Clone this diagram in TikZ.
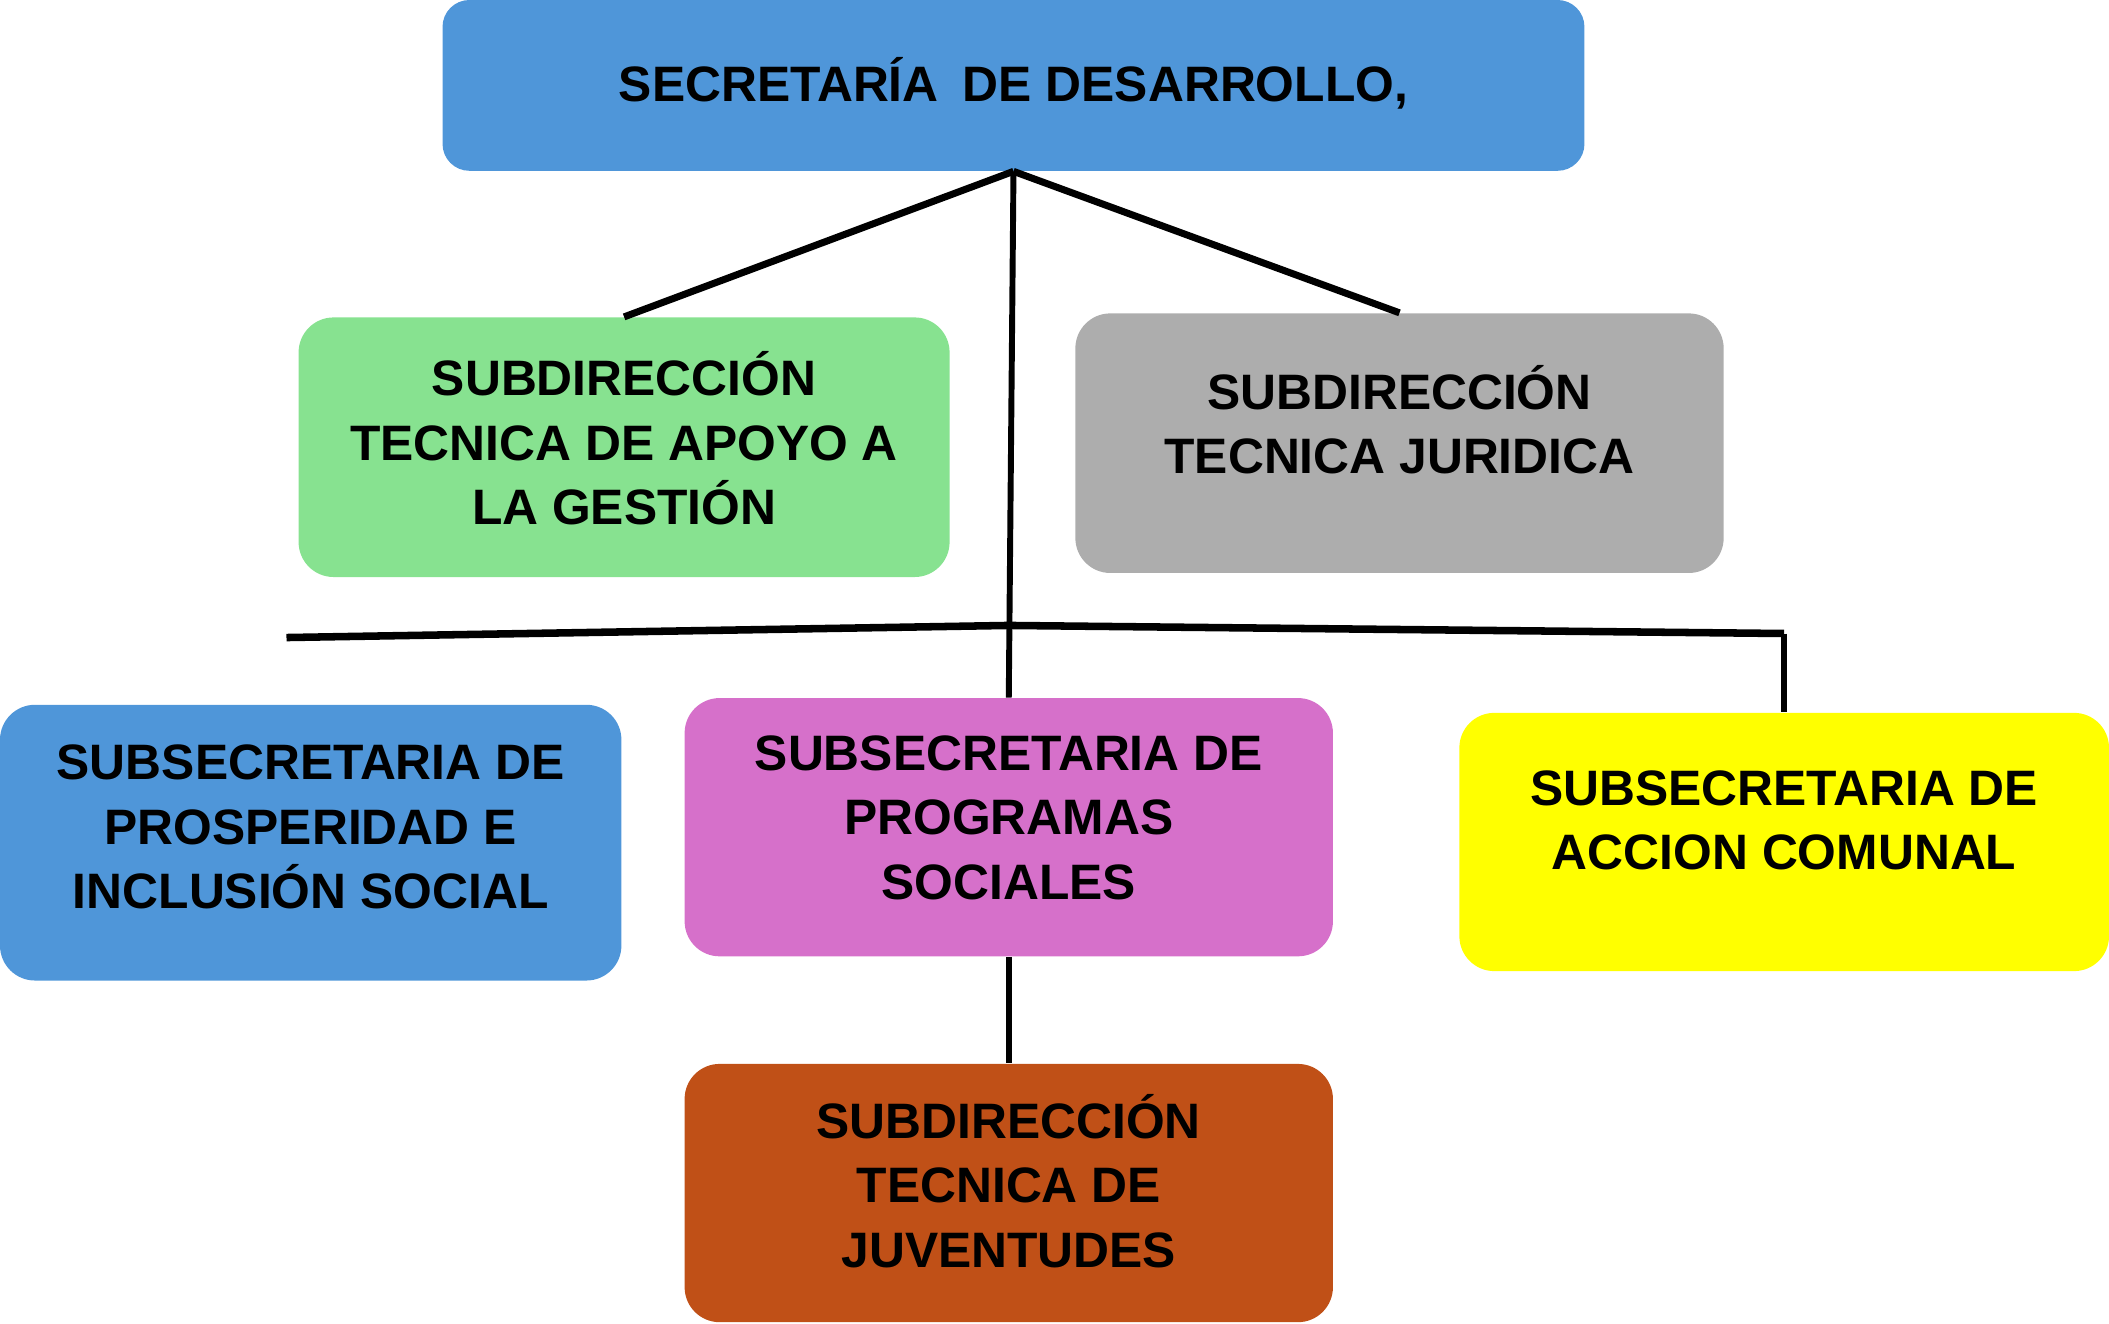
\documentclass[tikz,border=0pt]{standalone}
\usepackage{fontspec}
\setmainfont{Liberation Sans}
\usepackage{tikz}

\definecolor{secblue}{RGB}{79,150,217}
\definecolor{apoyogreen}{RGB}{135,226,144}
\definecolor{juridgray}{RGB}{173,173,173}
\definecolor{progpink}{RGB}{214,112,202}
\definecolor{comyellow}{RGB}{255,255,0}
\definecolor{juvorange}{RGB}{192,80,23}

\tikzset{
  box/.style={rounded corners=13pt,inner sep=0pt,minimum width=241pt,minimum height=96pt},
  txt/.style={align=center,inner sep=0pt,font=\bfseries\fontsize{18.5}{24}\selectfont},
  link/.style={line width=2.6pt},
  stem/.style={line width=2.2pt}
}

\begin{document}
\begin{tikzpicture}[x=0.5pt,y=-0.5pt]
  \useasboundingbox (0,0) rectangle (1568,984);

  \node[box,fill=secblue,rounded corners=10pt,minimum width=424.5pt,minimum height=63.5pt] (sec) at (753.5,63.5) {};
  \node[box,fill=apoyogreen,minimum width=242pt,minimum height=96.5pt] (apoyo) at (464,332.5) {};
  \node[box,fill=juridgray,minimum height=96.5pt] (juridica) at (1040.5,329.5) {};
  \node[box,fill=secblue,minimum width=231pt,minimum height=102.5pt] (prosp) at (231,626.5) {};
  \node[box,fill=progpink] (prog) at (750,615) {};
  \node[box,fill=comyellow,minimum width=241.5pt] (comunal) at (1326.5,626) {};
  \node[box,fill=juvorange] (juv) at (750,887) {};

  \node[txt] (secT) at (753.5,62) {SECRETARÍA\hspace{9pt}DE DESARROLLO,};
  \node[txt] (apoyoT) at (464,326) {SUBDIRECCIÓN\\TECNICA DE APOYO A\\LA GESTIÓN};
  \node[txt] (juridicaT) at (1040.5,312) {SUBDIRECCIÓN\\TECNICA JURIDICA};
  \node[txt] (prospT) at (231,615) {SUBSECRETARIA DE\\PROSPERIDAD E\\INCLUSIÓN SOCIAL};
  \node[txt] (progT) at (750,608) {SUBSECRETARIA DE\\PROGRAMAS\\SOCIALES};
  \node[txt] (comunalT) at (1326.5,610) {SUBSECRETARIA DE\\ACCION COMUNAL};
  \node[txt] (juvT) at (750,878) {SUBDIRECCIÓN\\TECNICA DE\\JUVENTUDES};

  \coordinate (barL) at (213,474);
  \coordinate (barM) at (750,465);
  \coordinate (barR) at (1326.5,471);

  \draw[link] (sec.south) -- (apoyo.north);
  \draw[link] (sec.south) -- (juridica.north);
  \draw[stem] (sec.south) -- (prog.north);
  \draw[line width=2.8pt] (barL) -- (barM) -- (barR);
  \draw[stem] (barR) -- (comunal.north);
  \draw[stem] (prog.south) -- (juv.north);
\end{tikzpicture}
\end{document}
